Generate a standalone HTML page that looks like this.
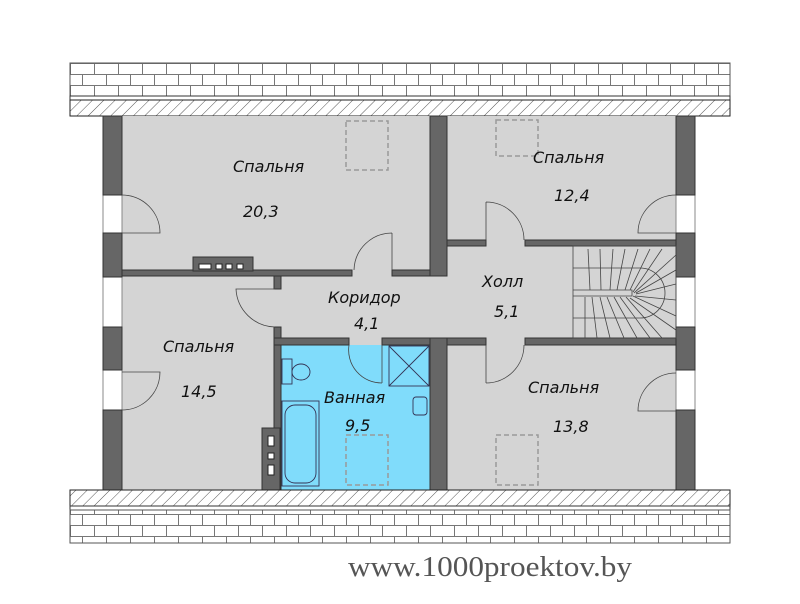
<!DOCTYPE html>
<html><head><meta charset="utf-8"><style>
html,body{margin:0;padding:0;background:#fff;width:800px;height:604px;overflow:hidden}
text{font-family:"DejaVu Sans","Liberation Sans",sans-serif;font-style:italic;fill:#111}
</style></head><body>
<svg width="800" height="604" viewBox="0 0 800 604" xmlns="http://www.w3.org/2000/svg">
<defs>
<pattern id="brick" width="24" height="22" patternUnits="userSpaceOnUse" x="70" y="63">
<rect width="24" height="22" fill="#fff"/>
<path d="M0 0.5H24M0 11.5H24M0.5 0V11M12.5 11V22" stroke="#777" stroke-width="1" fill="none"/>
</pattern>
<pattern id="hatch" width="8" height="8" patternUnits="userSpaceOnUse" patternTransform="rotate(45)">
<rect width="8" height="8" fill="#fff"/><line x1="0" y1="0" x2="0" y2="8" stroke="#555" stroke-width="1"/>
</pattern>
</defs>
<rect x="70" y="63" width="660" height="33" fill="url(#brick)" stroke="#555"/>
<rect x="70" y="96" width="660" height="4" fill="#fff" stroke="#333"/>
<rect x="70" y="100" width="660" height="16" fill="url(#hatch)" stroke="#222"/>
<rect x="122" y="116" width="554" height="374" fill="#d4d4d4"/>
<rect x="280" y="345" width="150" height="145" fill="#80dcfb"/>
<!-- windows -->
<g fill="#fff" stroke="#888">
<rect x="103" y="195" width="19" height="38"/><rect x="103" y="277" width="19" height="50"/><rect x="103" y="370" width="19" height="40"/>
<rect x="676" y="195" width="19" height="38"/><rect x="676" y="277" width="19" height="50"/><rect x="676" y="370" width="19" height="40"/>
</g>
<g fill="#666" stroke="#333" stroke-width="1">
<rect x="103" y="116" width="19" height="79"/>
<rect x="103" y="233" width="19" height="44"/>
<rect x="103" y="327" width="19" height="43"/>
<rect x="103" y="410" width="19" height="80"/>
<rect x="676" y="116" width="19" height="79"/>
<rect x="676" y="233" width="19" height="44"/>
<rect x="676" y="327" width="19" height="43"/>
<rect x="676" y="410" width="19" height="80"/>
<rect x="430" y="116" width="17" height="160"/>
<rect x="430" y="338" width="17" height="152"/>
<rect x="122" y="270" width="230" height="6"/>
<rect x="392" y="270" width="38" height="6"/>
<rect x="193" y="257" width="60" height="14"/>
<rect x="274" y="276" width="7" height="13"/>
<rect x="447" y="240" width="39" height="6"/>
<rect x="525" y="240" width="151" height="6"/>
<rect x="447" y="338" width="39" height="7"/>
<rect x="525" y="338" width="151" height="7"/>
<rect x="274" y="327" width="7" height="163"/>
<rect x="274" y="338" width="75" height="7"/>
<rect x="382" y="338" width="48" height="7"/>
<rect x="262" y="428" width="18" height="62"/>
</g>
<g fill="#fff" stroke="#222">
<rect x="199" y="264" width="12" height="5"/><rect x="216" y="264" width="6" height="5"/><rect x="226" y="264" width="6" height="5"/><rect x="237" y="264" width="6" height="5"/>
<rect x="268" y="436" width="6" height="10"/><rect x="268" y="453" width="6" height="6"/><rect x="268" y="465" width="6" height="10"/>
</g>
<g fill="none" stroke="#444" stroke-width="0.8">
<path d="M122 195 A38 38 0 0 1 160 233 H122"/>
<path d="M392 233 A38 38 0 0 0 354 270 M392 233 V270"/>
<path d="M275 327 A40 40 0 0 1 236 289 H275"/>
<path d="M486 202 A38 38 0 0 1 524 240 M486 202 V240"/>
<path d="M676 195 A38 38 0 0 0 638 233 H676"/>
<path d="M486 383 A38 38 0 0 0 524 345 M486 345 V383"/>
<path d="M676 373 A38 38 0 0 0 638 411 H676"/>
<path d="M382 383 A33 33 0 0 1 349 345 M382 345 V383"/>
<path d="M122 372 H160 A38 38 0 0 1 122 410"/>
</g>
<g stroke="#444" stroke-width="0.8" fill="none">
<rect x="573" y="246" width="103" height="92"/>
<path d="M573 290 H632 V296 H573"/>
<path d="M588 249 L590 290 M600 249 L601 290 M613 249 L610 290 M625 249 L617 290 M638 249 L625 290 M650 249 L630 290 M662 249 L633 292 M676 255 L634 293 M676 270 L636 293 M676 284 L636 294 M676 300 L635 296 M676 316 L633 296 M676 330 L630 298 M662 338 L626 297 M650 338 L620 297 M637 338 L614 297 M624 338 L607 297 M610 338 L600 297 M597 338 L592 297 M585 338 L585 297"/>
<path d="M573 268 H640 A25 25 0 0 1 640 318 H573"/>
</g>
<g fill="none" stroke="#335" stroke-width="0.9">
<rect x="389" y="346" width="40" height="40"/><path d="M389 346 L429 386 M429 346 L389 386"/>
<rect x="282" y="359" width="10" height="25"/><ellipse cx="301" cy="372" rx="9" ry="8"/>
<rect x="282" y="401" width="37" height="85"/><rect x="285" y="405" width="31" height="78" rx="10"/>
<rect x="413" y="397" width="14" height="18" rx="3"/>
</g>
<g fill="none" stroke="#999" stroke-width="1.5" stroke-dasharray="5 3">
<rect x="346" y="121" width="42" height="49"/><rect x="496" y="120" width="42" height="36"/>
<rect x="346" y="435" width="42" height="50"/><rect x="496" y="435" width="42" height="50"/>
</g>
<rect x="70" y="490" width="660" height="16" fill="url(#hatch)" stroke="#222"/>
<rect x="70" y="506" width="660" height="4" fill="#fff" stroke="#333"/>
<rect x="70" y="510" width="660" height="33" fill="url(#brick)" stroke="#555"/>
<g font-size="16">
<text x="233" y="172">Спальня</text><text x="243" y="217">20,3</text>
<text x="533" y="163">Спальня</text><text x="554" y="201">12,4</text>
<text x="328" y="303">Коридор</text><text x="354" y="329">4,1</text>
<text x="482" y="287">Холл</text><text x="494" y="317">5,1</text>
<text x="163" y="352">Спальня</text><text x="181" y="397">14,5</text>
<text x="324" y="403">Ванная</text><text x="345" y="431">9,5</text>
<text x="528" y="393">Спальня</text><text x="553" y="432">13,8</text>
</g>
<text x="348" y="576" textLength="284" lengthAdjust="spacingAndGlyphs" style="font-family:'Liberation Serif',serif;font-style:normal;font-size:28px;fill:#555">www.1000proektov.by</text>
</svg>
</body></html>
